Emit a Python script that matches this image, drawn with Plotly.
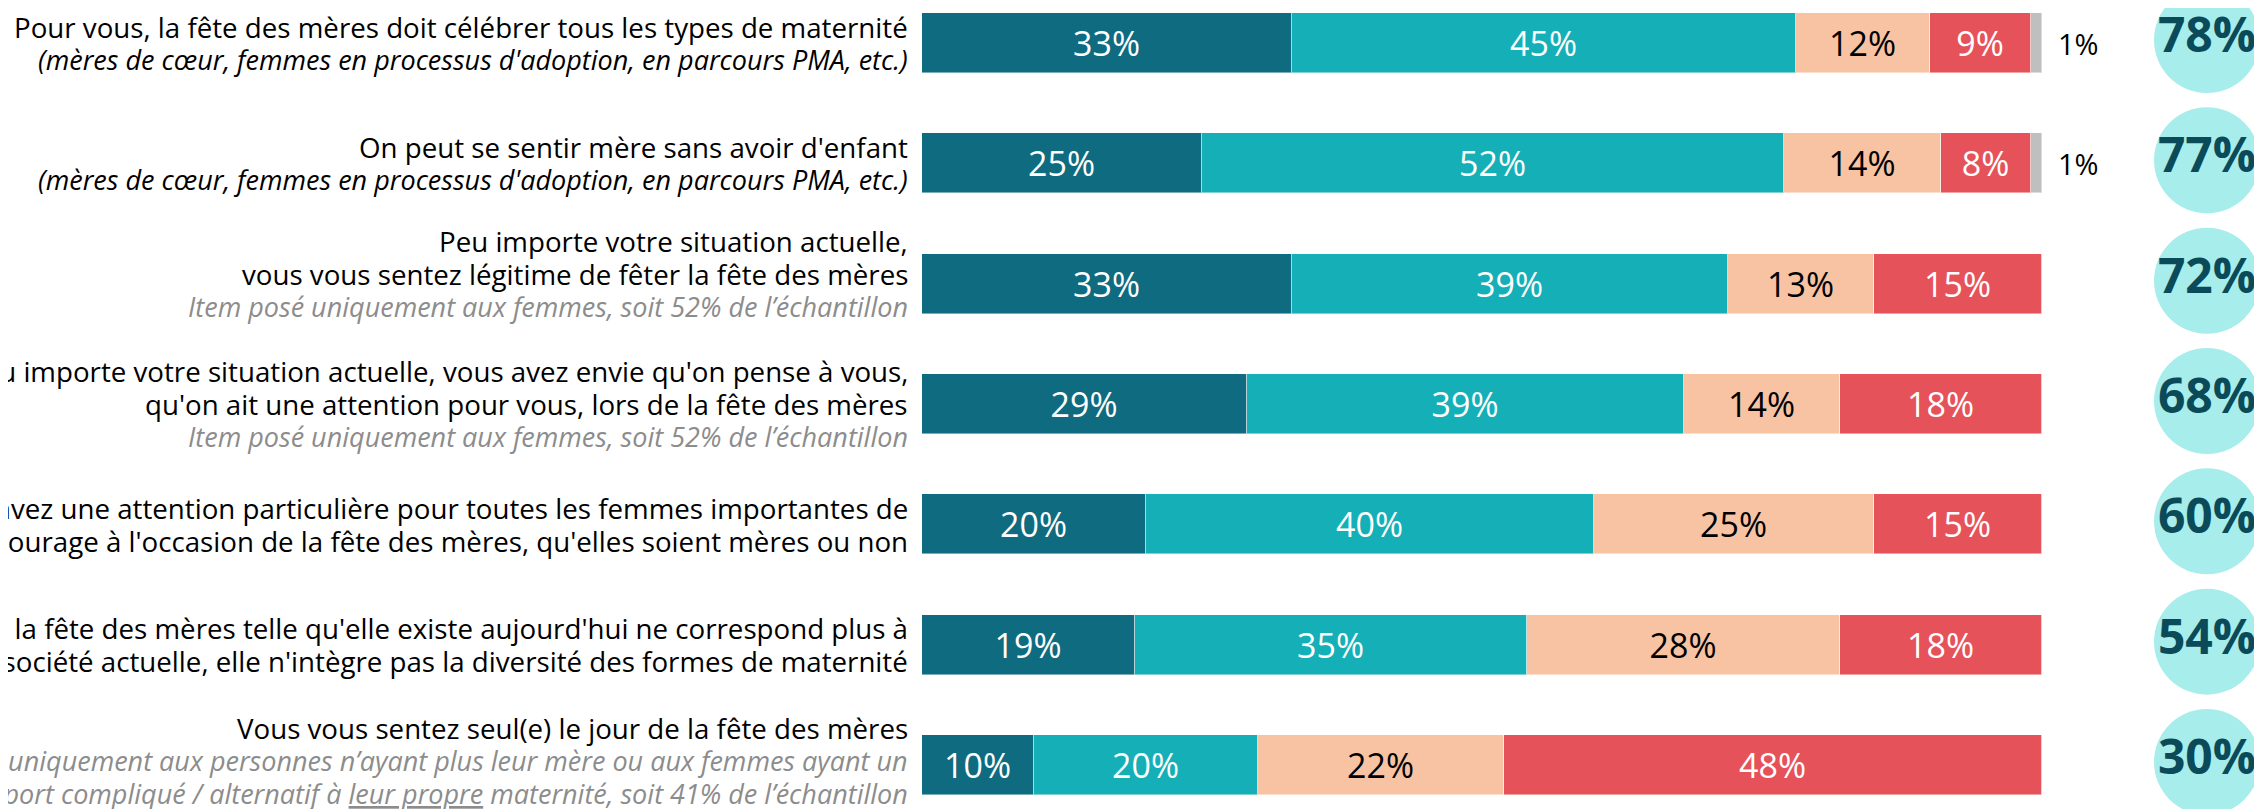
import plotly.graph_objects as go

# ---------------- data ----------------
items = [
    "fete_tous_types",
    "mere_sans_enfant",
    "legitime",
    "attention_pour_vous",
    "attention_femmes",
    "ne_correspond_plus",
    "seul",
]
tout_a_fait = [33, 25, 33, 29, 20, 19, 10]
plutot = [45, 52, 39, 39, 40, 35, 20]
plutot_pas = [12, 14, 13, 14, 25, 28, 22]
pas_du_tout = [9, 8, 15, 18, 15, 18, 48]
nsp = [1, 1, 0, 0, 0, 0, 0]
total_accord = [78, 77, 72, 68, 60, 54, 30]

# label lines: (text, style) style: n=normal, i=italic black, g=gray italic
label_lines = [
    [("Pour vous, la fête des mères doit célébrer tous les types de maternité", "n"),
     ("(mères de cœur, femmes en processus d'adoption, en parcours PMA, etc.)", "i")],
    [("On peut se sentir mère sans avoir d'enfant", "n"),
     ("(mères de cœur, femmes en processus d'adoption, en parcours PMA, etc.)", "i")],
    [("Peu importe votre situation actuelle,", "n"),
     ("vous vous sentez légitime de fêter la fête des mères", "n"),
     ("Item posé uniquement aux femmes, soit 52% de l’échantillon", "g")],
    [("Peu importe votre situation actuelle, vous avez envie qu'on pense à vous,", "n"),
     ("qu'on ait une attention pour vous, lors de la fête des mères", "n"),
     ("Item posé uniquement aux femmes, soit 52% de l’échantillon", "g")],
    [("Vous avez une attention particulière pour toutes les femmes importantes de", "n"),
     ("votre entourage à l'occasion de la fête des mères, qu'elles soient mères ou non", "n")],
    [("Selon vous, la fête des mères telle qu'elle existe aujourd'hui ne correspond plus à", "n"),
     ("la société actuelle, elle n'intègre pas la diversité des formes de maternité", "n")],
    [("Vous vous sentez seul(e) le jour de la fête des mères", "n"),
     ("Item posé uniquement aux personnes n’ayant plus leur mère ou aux femmes ayant un", "g"),
     ("rapport compliqué / alternatif à <u>leur propre</u> maternité, soit 41% de l’échantillon", "g")],
]

# ---------------- style ----------------
FONT = "Open Sans"
C_DARK = "#0F6B80"
C_TEAL = "#14AFB7"
C_PEACH = "#F7C3A3"
C_RED = "#E6525A"
C_GRAY = "#BFBFBF"
C_CIRCLE = "#A6EDEB"
C_CIRCLE_TXT = "#0B4A59"

OFF = 8  # page body margin
W, H = 2262, 809
X0_PX, X100_PX = 922 - OFF, 2042 - OFF
PX_PER_UNIT = (X100_PX - X0_PX) / 100.0
xr = [-X0_PX / PX_PER_UNIT, 100 + (W - X100_PX) / PX_PER_UNIT]
ROW_PX = 120.33
FIRST_PX = 43 - OFF
yr = [(H - FIRST_PX) / ROW_PX, -FIRST_PX / ROW_PX]

ypos = list(range(len(items)))

fig = go.Figure()
series = [
    (tout_a_fait, C_DARK, "white"),
    (plutot, C_TEAL, "white"),
    (plutot_pas, C_PEACH, "black"),
    (pas_du_tout, C_RED, "white"),
    (nsp, C_GRAY, "black"),
]
for vals, col, tcol in series:
    is_nsp = col == C_GRAY
    fig.add_trace(go.Bar(
        y=ypos, x=vals, orientation="h",
        marker=dict(color=col, line=dict(color="rgba(255,255,255,0.45)", width=1)),
        text=["" if (is_nsp or v == 0) else f"{v}%" for v in vals],
        textposition="inside", insidetextanchor="middle",
        constraintext="none",
        textfont=dict(family=FONT, size=34, color=tcol),
        width=0.5, hoverinfo="skip", showlegend=False,
    ))

# outside labels for "nsp"
totals = [a + b + c + d + e for a, b, c, d, e in zip(tout_a_fait, plutot, plutot_pas, pas_du_tout, nsp)]
for i, v in enumerate(nsp):
    if v > 0:
        fig.add_annotation(x=totals[i], y=ypos[i], xref="x", yref="y",
                           text=f"{v}%", showarrow=False, xanchor="left",
                           xshift=14, font=dict(family=FONT, size=29, color="black"))

# circles with total agreement
CIRCLE_X = 100 + (2207 - OFF - X100_PX) / PX_PER_UNIT
fig.add_trace(go.Scatter(
    x=[CIRCLE_X] * len(items), y=[p - 3 / ROW_PX for p in ypos],
    mode="markers+text",
    marker=dict(size=106, color=C_CIRCLE, line=dict(width=0)),
    text=[f"<b>{v}%</b>" for v in total_accord],
    textposition="middle center",
    textfont=dict(family=FONT, size=48, color=C_CIRCLE_TXT),
    hoverinfo="skip", showlegend=False, cliponaxis=False,
))

# left labels
LABEL_X = (910 - OFF - X0_PX) / PX_PER_UNIT
LINE_PX = 33
ROW_SHIFT = [0, 0, 10, 0, 0, 0, 4]  # px upward shift per label block
for i, lines in enumerate(label_lines):
    n = len(lines)
    for j, (txt, st) in enumerate(lines):
        off = (j - (n - 1) / 2) * LINE_PX - ROW_SHIFT[i]
        if st == "n":
            t, c, s = txt, "black", 27.7
        elif st == "i":
            t, c, s = f"<i>{txt}</i>", "black", 27
        else:
            t, c, s = f"<i>{txt}</i>", "#8C8C8C", 27
        fig.add_annotation(x=LABEL_X, y=ypos[i], xref="x", yref="y",
                           text=t, showarrow=False, xanchor="right", yanchor="middle",
                           yshift=-off, font=dict(family=FONT, size=s, color=c))

fig.update_layout(
    width=W, height=H,
    margin=dict(l=0, r=0, t=0, b=0),
    barmode="stack",
    paper_bgcolor="white", plot_bgcolor="white",
    xaxis=dict(range=xr, visible=False, fixedrange=True),
    yaxis=dict(range=yr, visible=False, fixedrange=True),
    bargap=0,
)
fig.write_html("out.html")
